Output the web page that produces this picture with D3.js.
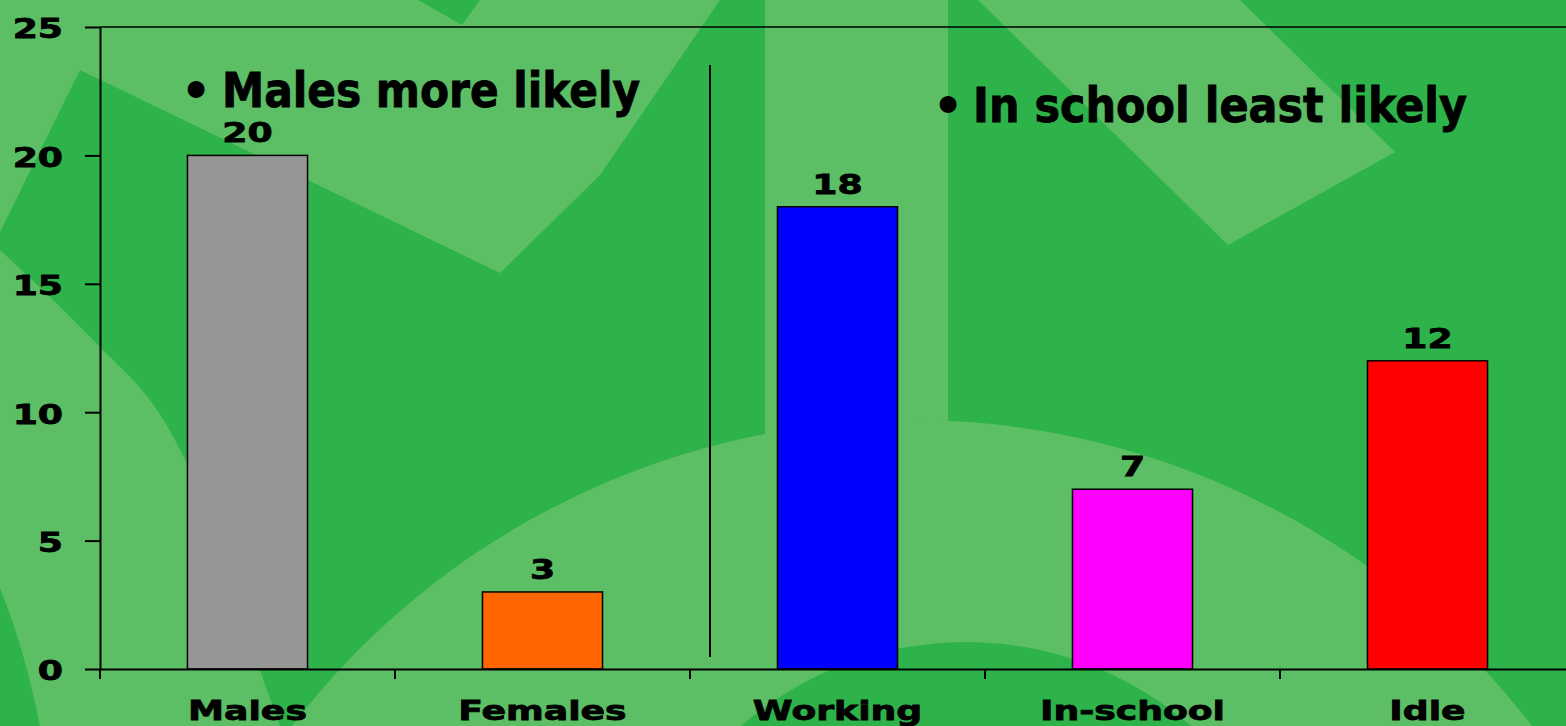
<!DOCTYPE html>
<html>
<head>
<meta charset="utf-8">
<script src="https://cdn.jsdelivr.net/npm/d3@7"></script>
<style>
  html, body { margin: 0; padding: 0; overflow: hidden; }
  svg { display: block; }
  text { font-family: 'DejaVu Sans', Verdana, sans-serif; font-weight: bold; fill: #000; }
</style>
</head>
<body>
<div id="chart"></div>
<script>
'use strict';

// Chart data.
const categories = ['Males', 'Females', 'Working', 'In-school', 'Idle'];
const values = [20, 3, 18, 7, 12];
const barColors = ['#969696', '#ff6600', '#0000ff', '#ff00ff', '#ff0000'];
const yTicks = [0, 5, 10, 15, 20, 25];
const notes = ['Males more likely', 'In school least likely'];

const width = 1566;
const height = 726;
const dark = '#2eb34a';
const light = '#5cbf66';
// Labels on the slide are stretched sideways.
const stretch = 1.34;

const $svg = d3.select('#chart').append('svg')
  .attr('width', width)
  .attr('height', height);

// Background decoration (slide template shapes).
function drawBackground($g) {
  $g.append('rect')
    .attr('width', width)
    .attr('height', height)
    .attr('fill', dark);

  const polys = [
    [[0, 0], [418, 0], [462, 25], [480, 0], [720, 0], [600, 175], [500, 273], [80, 70], [0, 232]],
    [[765, 0], [948, 0], [948, 470], [765, 470]],
    [[978, 0], [1240, 0], [1395, 152], [1228, 245]]
  ];
  $g.selectAll('polygon')
    .data(polys)
    .enter()
    .append('polygon')
    .attr('points', d => d.map(p => p.join(',')).join(' '))
    .attr('fill', light);

  // Left sweep.
  const edge = d3.line().curve(d3.curveCatmullRom)([
    [0, 250], [50, 297], [100, 347], [150, 400], [190, 470], [232, 580], [260, 670], [280, 726]
  ]);
  $g.append('path')
    .attr('d', edge + ' L40,726 Q25,650 0,588 Z')
    .attr('fill', light);

  // Large disc at the bottom with a dark core.
  $g.append('circle')
    .attr('cx', 912).attr('cy', 1201).attr('r', 781)
    .attr('fill', light);
  $g.append('circle')
    .attr('cx', 966).attr('cy', 985).attr('r', 343)
    .attr('fill', dark);
}

drawBackground($svg.append('g').attr('class', 'background'));

const margin = { left: 100, top: 27, bottom: 669 };

const x = d3.scaleBand()
  .domain(categories)
  .range([margin.left, margin.left + 295 * categories.length])
  .paddingInner(0.593)
  .paddingOuter(0.2965);

const y = d3.scaleLinear()
  .domain([0, 25])
  .range([margin.bottom, margin.top]);

const $plot = $svg.append('g').attr('class', 'plot');

// Top border of the plot area.
$plot.append('line')
  .attr('x1', margin.left)
  .attr('x2', width)
  .attr('y1', y(25))
  .attr('y2', y(25))
  .attr('stroke', '#000')
  .attr('stroke-width', 1.5);

// Bars.
const bars = categories.map((c, i) => ({ category: c, value: values[i], color: barColors[i] }));

$plot.selectAll('.bar')
  .data(bars)
  .enter()
  .append('rect')
  .attr('class', 'bar')
  .attr('x', d => x(d.category))
  .attr('y', d => y(d.value))
  .attr('width', x.bandwidth())
  .attr('height', d => y(0) - y(d.value))
  .attr('fill', d => d.color)
  .attr('stroke', '#000')
  .attr('stroke-width', 1.5);

// Heavier strokes on the label glyphs.
const heavy = sel => sel.attr('stroke', '#000').attr('stroke-width', 0.8);

// Value labels.
$plot.selectAll('.value')
  .data(bars)
  .enter()
  .append('text')
  .attr('class', 'value')
  .attr('text-anchor', 'middle')
  .attr('font-size', 27)
  .attr('transform', d => 'translate(' + (x(d.category) + x.bandwidth() / 2) + ',' + (y(d.value) - 13) + ') scale(' + stretch + ',1)')
  .text(d => d.value)
  .call(heavy);

// Y axis.
const $yAxis = $plot.append('g')
  .attr('transform', 'translate(' + margin.left + ',0)')
  .call(d3.axisLeft(y).tickValues(yTicks).tickSize(15).tickSizeOuter(0));
$yAxis.select('.domain').attr('stroke', '#000').attr('stroke-width', 2);
$yAxis.selectAll('.tick line').attr('stroke', '#000').attr('stroke-width', 2);
$yAxis.selectAll('.tick text')
  .attr('font-size', 27)
  .attr('font-family', null)
  .attr('x', -37 / stretch)
  .attr('dy', '0.4em')
  .attr('transform', 'scale(' + stretch + ',1)')
  .call(heavy);

// X axis.
const $xAxis = $plot.append('g')
  .attr('transform', 'translate(0,' + y(0) + ')')
  .call(d3.axisBottom(x).tickSize(0).tickSizeOuter(0));
$xAxis.select('.domain').attr('stroke', '#000').attr('stroke-width', 2);
$xAxis.selectAll('.tick text')
  .attr('font-size', 27)
  .attr('font-family', null)
  .attr('y', 51)
  .attr('dy', 0)
  .attr('transform', 'scale(' + stretch + ',1)')
  .call(heavy);

// Tick marks between categories.
const gap = (x.step() - x.bandwidth()) / 2;
const bounds = categories.map(c => x(c) - gap).concat([x(categories[categories.length - 1]) + x.bandwidth() + gap]);
$xAxis.selectAll('.bound')
  .data(bounds)
  .enter()
  .append('line')
  .attr('class', 'bound')
  .attr('x1', d => d)
  .attr('x2', d => d)
  .attr('y1', 0)
  .attr('y2', 10)
  .attr('stroke', '#000')
  .attr('stroke-width', 2);

// Divider between the two groups.
const divX = bounds[2] + 20;
$plot.append('line')
  .attr('x1', divX)
  .attr('x2', divX)
  .attr('y1', 65)
  .attr('y2', 657)
  .attr('stroke', '#000')
  .attr('stroke-width', 2);

// Bullet notes.
const noteLayout = [
  { bx: 196, tx: 222, base: 107, len: 418 },
  { bx: 948, tx: 973, base: 122, len: 494 }
];
const $notes = $plot.selectAll('.note')
  .data(notes)
  .enter()
  .append('g')
  .attr('class', 'note');

$notes.append('text')
  .attr('x', (d, i) => noteLayout[i].bx)
  .attr('y', (d, i) => noteLayout[i].base)
  .attr('text-anchor', 'middle')
  .attr('font-size', 48)
  .text('•');

$notes.append('text')
  .attr('x', (d, i) => noteLayout[i].tx)
  .attr('y', (d, i) => noteLayout[i].base)
  .attr('font-size', 48)
  .style('font-family', "'DejaVu Sans Condensed', 'DejaVu Sans', sans-serif")
  .attr('textLength', (d, i) => noteLayout[i].len)
  .attr('lengthAdjust', 'spacingAndGlyphs')
  .text(d => d)
  .call(heavy);
</script>
</body>
</html>
